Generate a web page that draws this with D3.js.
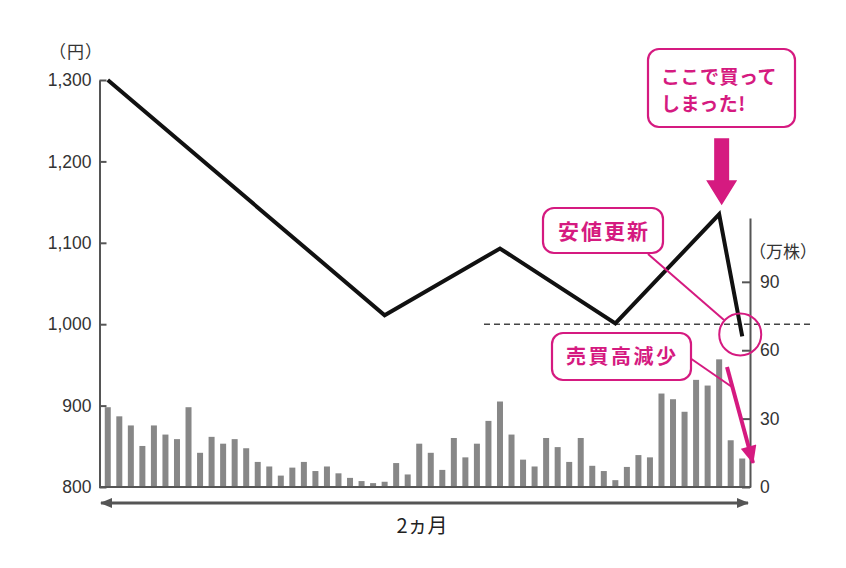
<!DOCTYPE html>
<html>
<head>
<meta charset="utf-8">
<script src="https://cdn.jsdelivr.net/npm/d3@7"></script>
<style>
  body { margin: 0; background: #fff; }
  svg { display: block; }
</style>
</head>
<body>
<div id="chart"></div>
<script>
// daily volume (万株), 56 trading days
const volume = [
  35, 31, 27, 18, 27, 23, 21, 35, 15, 22,
  19, 21, 17, 11, 9, 5, 8.5, 11, 7, 9,
  6, 4, 2.6, 1.7, 2.3, 10.5, 5.5, 19, 15, 7.5,
  21.5, 13, 19, 29, 37.5, 23, 12, 9, 21.5, 17.5,
  11, 21.5, 9.3, 7, 3, 8.8, 14, 13, 41, 38.5,
  33, 47, 44.5, 56, 20.5, 12.5
];
// price turning points (day index, 円)
const priceDay = [0, 24, 34, 44, 53, 55];
const priceValue = [1300, 1011, 1093, 1001, 1135, 985];

const priceTicks = [800, 900, 1000, 1100, 1200, 1300];
const volumeTicks = [0, 30, 60, 90];
const supportLevel = 1000;

const priceUnit = '（円）';
const volumeUnit = '（万株）';
const periodLabel = '2ヵ月';
const noteBuy = ['ここで買って', 'しまった!'];
const noteLow = '安値更新';
const noteVol = '売買高減少';

const pink = '#d51a80';
const axisGrey = '#555';
const numFont = '"Liberation Sans", Arial, sans-serif';
const jpFont = '"Noto Sans CJK JP", sans-serif';

const W = 846, H = 568;
const svg = d3.select('#chart').append('svg')
  .attr('width', W)
  .attr('height', H);

const x = d3.scaleBand()
  .domain(volume.map((d, i) => i))
  .range([102, 748])
  .paddingInner(0.48)
  .paddingOuter(0.24);

const yPrice = d3.scaleLinear().domain([800, 1300]).range([487, 80]);
const yVol = d3.scaleLinear().domain([0, 118]).range([487, 218]);

const cx = i => x(i) + x.bandwidth() / 2;

// volume bars
svg.append('g')
  .selectAll('rect')
  .data(volume)
  .join('rect')
    .attr('x', (d, i) => x(i))
    .attr('y', d => yVol(d))
    .attr('width', x.bandwidth())
    .attr('height', d => yVol(0) - yVol(d))
    .attr('fill', '#878787');

// left price axis
const leftAxis = svg.append('g')
  .attr('transform', 'translate(99.5,0)')
  .call(d3.axisLeft(yPrice).tickValues(priceTicks).tickFormat(d3.format(','))
    .tickSizeInner(-7).tickSizeOuter(0).tickPadding(8));

// right volume axis
const rightAxis = svg.append('g')
  .attr('transform', 'translate(750,0)')
  .call(d3.axisRight(yVol).tickValues(volumeTicks)
    .tickSizeInner(-8).tickSizeOuter(0).tickPadding(10));

[leftAxis, rightAxis].forEach(g => {
  g.selectAll('path, line').attr('stroke', axisGrey).attr('stroke-width', 2);
  g.selectAll('text')
    .attr('font-family', numFont)
    .attr('font-size', 17.5)
    .attr('fill', '#333');
});

// baseline
svg.append('line')
  .attr('x1', 99).attr('x2', 751)
  .attr('y1', yVol(0)).attr('y2', yVol(0))
  .attr('stroke', axisGrey).attr('stroke-width', 2);

// unit labels
svg.append('text')
  .attr('x', 76).attr('y', 58)
  .attr('text-anchor', 'middle')
  .attr('font-family', jpFont).attr('font-size', 17)
  .attr('letter-spacing', 1)
  .attr('fill', '#333')
  .text(priceUnit);

svg.append('text')
  .attr('x', 783).attr('y', 258)
  .attr('text-anchor', 'middle')
  .attr('font-family', jpFont).attr('font-size', 17)
  .attr('fill', '#333')
  .text(volumeUnit);

// support dashed line at 1,000
svg.append('line')
  .attr('x1', 484).attr('x2', 812)
  .attr('y1', yPrice(supportLevel)).attr('y2', yPrice(supportLevel))
  .attr('stroke', '#444').attr('stroke-width', 1.5)
  .attr('stroke-dasharray', '6,4');

// price line
const pricePts = priceDay.map((d, i) => [cx(d), yPrice(priceValue[i])]);
svg.append('path')
  .attr('d', d3.line()(pricePts))
  .attr('fill', 'none')
  .attr('stroke', '#111')
  .attr('stroke-width', 4)
  .attr('stroke-linejoin', 'miter');

// period double arrow
const defs = svg.append('defs');
defs.append('marker')
  .attr('id', 'greyHead')
  .attr('viewBox', '0 0 12 10')
  .attr('refX', 11).attr('refY', 5)
  .attr('markerWidth', 12).attr('markerHeight', 10)
  .attr('markerUnits', 'userSpaceOnUse')
  .attr('orient', 'auto-start-reverse')
  .append('path')
    .attr('d', 'M0,0 L12,5 L0,10 Z')
    .attr('fill', axisGrey);

svg.append('line')
  .attr('x1', 101).attr('x2', 748)
  .attr('y1', 503).attr('y2', 503)
  .attr('stroke', axisGrey).attr('stroke-width', 3)
  .attr('marker-start', 'url(#greyHead)')
  .attr('marker-end', 'url(#greyHead)');

svg.append('text')
  .attr('x', 422).attr('y', 533)
  .attr('text-anchor', 'middle')
  .attr('font-family', jpFont).attr('font-size', 20)
  .attr('fill', '#222')
  .text(periodLabel);

// annotations
const last = pricePts[pricePts.length - 1];
const peak = pricePts[4];

// leader lines
svg.append('line')
  .attr('x1', 648).attr('y1', 254)
  .attr('x2', 724).attr('y2', 320)
  .attr('stroke', pink).attr('stroke-width', 2);

svg.append('line')
  .attr('x1', 690).attr('y1', 358)
  .attr('x2', 732).attr('y2', 387)
  .attr('stroke', pink).attr('stroke-width', 2);

// circle around new low
svg.append('circle')
  .attr('cx', last[0] - 2).attr('cy', last[1] - 2)
  .attr('r', 21)
  .attr('fill', 'none')
  .attr('stroke', pink).attr('stroke-width', 2);

// volume decrease arrow
defs.append('marker')
  .attr('id', 'pinkHead')
  .attr('viewBox', '0 0 18 16')
  .attr('refX', 17).attr('refY', 8)
  .attr('markerWidth', 20).attr('markerHeight', 16)
  .attr('markerUnits', 'userSpaceOnUse')
  .attr('orient', 'auto')
  .append('path')
    .attr('d', 'M0,0 L18,8 L0,16 Z')
    .attr('fill', pink);

svg.append('line')
  .attr('x1', 727).attr('y1', 367)
  .attr('x2', 753).attr('y2', 463)
  .attr('stroke', pink).attr('stroke-width', 4)
  .attr('marker-end', 'url(#pinkHead)');

// big down arrow onto the peak
const tipY = peak[1] - 9;
svg.append('path')
  .attr('d', d3.line()([
    [peak[0] - 5, tipY - 67], [peak[0] + 10, tipY - 67],
    [peak[0] + 10, tipY - 25], [peak[0] + 18, tipY - 25],
    [peak[0] + 2.5, tipY], [peak[0] - 13, tipY - 25],
    [peak[0] - 5, tipY - 25]
  ]) + 'Z')
  .attr('fill', pink);

function noteBox(x0, y0, w, h) {
  svg.append('rect')
    .attr('x', x0).attr('y', y0)
    .attr('width', w).attr('height', h)
    .attr('rx', 11)
    .attr('fill', '#fff')
    .attr('stroke', pink).attr('stroke-width', 2.2);
}

function noteText(tx, ty, str, size, spacing) {
  svg.append('text')
    .attr('x', tx).attr('y', ty)
    .attr('font-family', jpFont)
    .attr('font-weight', 'bold')
    .attr('font-size', size)
    .attr('letter-spacing', spacing)
    .attr('fill', pink)
    .text(str);
}

noteBox(648, 49, 147, 78);
noteText(661, 84, noteBuy[0], 19, 0.5);
noteText(661, 111, noteBuy[1], 19, 0.5);

noteBox(543, 208, 120, 45);
noteText(558, 239, noteLow, 21, 2);

noteBox(552, 333, 139, 47);
noteText(566, 364, noteVol, 20, 2.5);
</script>
</body>
</html>
